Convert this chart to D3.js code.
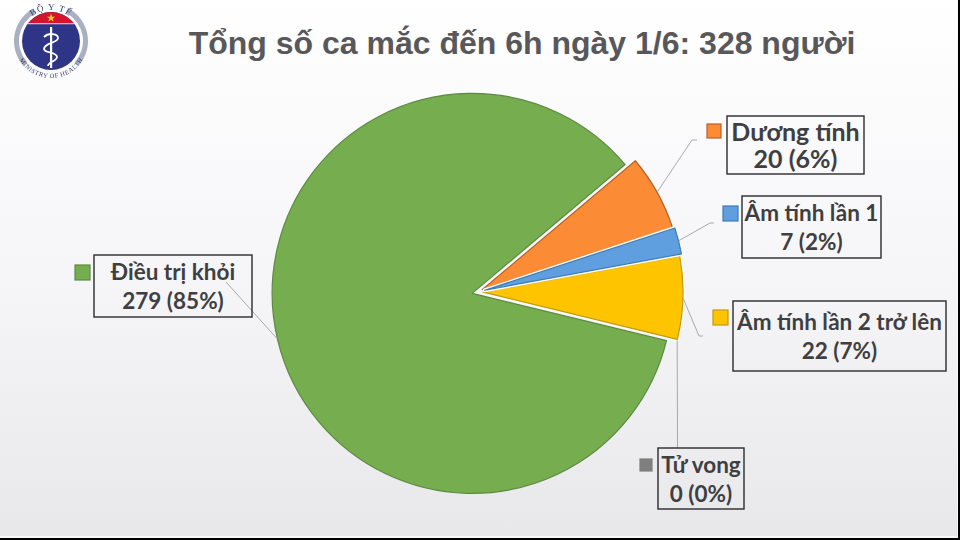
<!DOCTYPE html>
<html lang="vi"><head>
<meta charset="utf-8">
<title>Tổng số ca mắc</title>
<script src="https://cdnjs.cloudflare.com/ajax/libs/d3/7.8.5/d3.min.js"></script>
<style>
html, body { margin: 0; padding: 0; background: #000; }
svg { display: block; }
.lbl { font-family: Lato, "Open Sans", sans-serif; font-weight: 700; fill: #3f3f42; text-anchor: middle; }
</style>
</head>
<body>
<div id="chart"></div>
<script>
// data
var categories = ["Dương tính", "Âm tính lần 1", "Âm tính lần 2 trở lên", "Tử vong", "Điều trị khỏi"];
var values = [20, 7, 22, 0, 279];
var percents = ["6%", "2%", "7%", "0%", "85%"];

var strokes = ["#b9612a", "#3f7cb5", "#c29a10", "#7f7f7f", "#5d8a42"];
var pieFills = ["#fb8b34", "#5f9fe0", "#ffc400", "#7f7f7f", "#75ad4f"];

// per slice pull-out from the pie centre, px
var explode = [5, 7, 5, 5, 6];

// label box, legend key, text baselines and leader end for each category
var boxes = [
  {x: 727, y: 116, w: 137, h: 58, key: [707, 124, 14], fs: 25, base: [140.5, 168], lead: [[692, 140], [697, 140]]},
  {x: 742, y: 196, w: 139, h: 62, key: [723, 206, 15], fs: 22.5, base: [221, 250], lead: [[710, 223], [714, 223]]},
  {x: 733, y: 301, w: 213, h: 70, key: [713, 310, 15], fs: 22.5, base: [330, 359], lead: [[699, 336], [703, 336]]},
  {x: 658, y: 448, w: 86, h: 61, key: [640, 459, 12], fs: 22.5, base: [473, 501.5], lead: [[677.5, 448]]},
  {x: 94, y: 255, w: 158, h: 62, key: [75, 265, 15], fs: 22.5, base: [280, 309], lead: [[226, 282]]}
];

var width = 960, height = 540;
var cx = 478, cy = 292, radius = 200;
var startDeg = 49.9;

var svg = d3.select("#chart").append("svg").attr("width", width).attr("height", height);
var defs = svg.append("defs");
var grad = defs.append("linearGradient").attr("id", "bg").attr("x1", 0).attr("y1", 0).attr("x2", 0).attr("y2", 1);
grad.append("stop").attr("offset", "0%").attr("stop-color", "#ffffff");
grad.append("stop").attr("offset", "55%").attr("stop-color", "#f5f4f7");
grad.append("stop").attr("offset", "100%").attr("stop-color", "#e8e7ea");
defs.append("filter").attr("id", "soft").append("feGaussianBlur").attr("stdDeviation", 0.45);

svg.append("rect").attr("width", 958).attr("height", 538).attr("fill", "#f8f7f9");
svg.append("rect").attr("width", 957).attr("height", 536).attr("fill", "url(#bg)");

// title
svg.append("text").attr("x", 522).attr("y", 54).attr("text-anchor", "middle")
  .style("font-family", "'Liberation Sans', Arial, sans-serif").style("font-weight", 700)
  .style("font-size", "32px").attr("fill", "#58585a")
  .text("Tổng số ca mắc đến 6h ngày 1/6: 328 người");

// pie
var pie = d3.pie().sort(null)
  .startAngle(startDeg * Math.PI / 180)
  .endAngle((startDeg + 360) * Math.PI / 180);
var arc = d3.arc().innerRadius(0).outerRadius(radius);
var arcs = pie(values);

function offset(d, i) {
  var a = (d.startAngle + d.endAngle) / 2;
  return [explode[i] * Math.sin(a), -explode[i] * Math.cos(a)];
}
function edgePoint(d, i) {
  var a = (d.startAngle + d.endAngle) / 2, o = offset(d, i);
  return [cx + o[0] + radius * Math.sin(a), cy + o[1] - radius * Math.cos(a)];
}

var pieG = svg.append("g").attr("transform", "translate(" + cx + "," + cy + ")");
// the green one goes first, the rest overlap it
[4, 2, 0, 1].forEach(function (i) {
  var o = offset(arcs[i], i);
  var t = "translate(" + o[0] + "," + o[1] + ")";
  // white rim, makes the gap along the cut edges
  if (i !== 4) {
    pieG.append("path").attr("d", arc(arcs[i])).attr("transform", t)
      .attr("fill", "none").attr("stroke", "#fdfcf8").attr("stroke-width", 4)
      .attr("stroke-linejoin", "round");
  }
  pieG.append("path")
    .attr("d", arc(arcs[i]))
    .attr("transform", t)
    .attr("fill", pieFills[i])
    .attr("stroke", strokes[i])
    .attr("stroke-width", 1.2)
    .attr("stroke-linejoin", "round");
});

// leaders
var line = d3.line();
boxes.forEach(function (b, i) {
  var pts = [edgePoint(arcs[i], i)].concat(b.lead);
  svg.append("path").attr("d", line(pts)).attr("fill", "none")
    .attr("stroke", "#a9a9ab").attr("stroke-width", 1);
});

// labels
boxes.forEach(function (b, i) {
  svg.append("rect").attr("x", b.x).attr("y", b.y).attr("width", b.w).attr("height", b.h)
    .attr("fill", "none").attr("stroke", "#2b2b2e").attr("stroke-width", 1.4);
  svg.append("rect").attr("x", b.key[0]).attr("y", b.key[1]).attr("width", b.key[2]).attr("height", b.key[2])
    .attr("fill", pieFills[i]).attr("stroke", strokes[i]).attr("stroke-width", 1.2);
  var mid = b.x + b.w / 2;
  svg.append("text").attr("class", "lbl").attr("x", mid).attr("y", b.base[0])
    .style("font-size", b.fs + "px").text(categories[i]);
  svg.append("text").attr("class", "lbl").attr("x", mid).attr("y", b.base[1])
    .style("font-size", b.fs + "px").text(values[i] + " (" + percents[i] + ")");
});

// ministry logo
var logo = svg.append("g").attr("transform", "translate(51,41)").attr("filter", "url(#soft)");
var ringArc = d3.arc().innerRadius(32).outerRadius(37);
logo.append("path").attr("d", ringArc({startAngle: 0.5, endAngle: 2.3})).attr("fill", "#aab0c2");
logo.append("path").attr("d", ringArc({startAngle: -2.3, endAngle: -0.5})).attr("fill", "#aab0c2");
logo.append("circle").attr("r", 29).attr("fill", "#2e3487");
var capX = Math.sqrt(29 * 29 - 18 * 18);
logo.append("path").attr("d", "M" + (-capX) + ",-18A29,29 0 0 1 " + capX + ",-18Z").attr("fill", "#d3172e");
logo.append("rect").attr("x", -23).attr("y", -18).attr("width", 46).attr("height", 1.3).attr("fill", "#f4a9b4");
logo.append("path").attr("d", d3.symbol().type(d3.symbolStar).size(22)()).attr("transform", "translate(0,-23)").attr("fill", "#ffd21f");
logo.append("rect").attr("x", -1).attr("y", -14).attr("width", 2.2).attr("height", 41).attr("fill", "#fff");
logo.append("path").attr("d", "M-7,-4C-2,-9 7,-7 7,-3C7,2 -7,2 -7,8C-7,12 6,11 6,16C6,20 -3,21 -3,25")
  .attr("fill", "none").attr("stroke", "#fff").attr("stroke-width", 1.8);
defs.append("path").attr("id", "logoTop").attr("d", "M-31,0A31,31 0 0 1 31,0");
defs.append("path").attr("id", "logoBot").attr("d", "M-32,0A32,32 0 0 0 32,0");
logo.append("text").style("font-family", "'Liberation Serif', serif").style("font-size", "9px").style("letter-spacing", "1px").attr("fill", "#333a66")
  .attr("text-anchor", "middle").append("textPath").attr("href", "#logoTop").attr("startOffset", "50%").text("BỘ Y TẾ");
logo.append("text").style("font-family", "'Liberation Serif', serif").style("font-size", "6.4px").attr("fill", "#333a66")
  .attr("text-anchor", "middle").attr("dy", 5).append("textPath").attr("href", "#logoBot").attr("startOffset", "50%").text("MINISTRY OF HEALTH");
</script>
</body></html>
